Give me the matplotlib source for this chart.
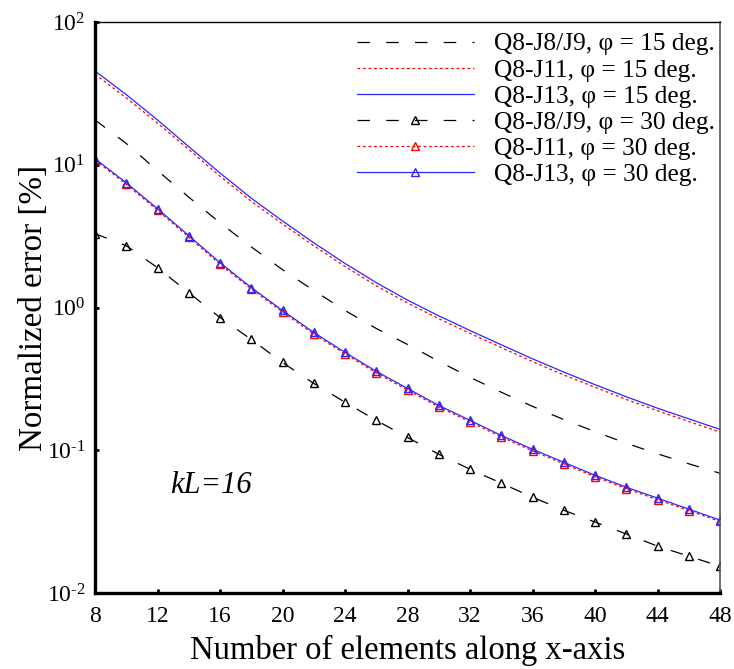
import matplotlib
matplotlib.use('Agg')
import numpy as np
import matplotlib.pyplot as plt
from matplotlib.ticker import LogLocator, NullLocator, FixedLocator, FuncFormatter

plt.rcParams['font.family'] = ['Liberation Serif', 'DejaVu Serif']
plt.rcParams['mathtext.fontset'] = 'custom'
plt.rcParams['mathtext.rm'] = 'Liberation Serif'
plt.rcParams['axes.unicode_minus'] = False

# number of elements along x-axis
n_elem = [8, 10, 12, 14, 16, 18, 20, 22, 24, 26, 28, 30, 32, 34, 36, 38, 40, 42, 44, 46, 48]

# normalized error [%], phi = 15 deg.
j89_15 = [20.6, 14.1, 9.10, 5.93, 3.92, 2.66, 1.84, 1.315, 0.953, 0.713, 0.551,
          0.420, 0.324, 0.255, 0.203, 0.164, 0.135, 0.112, 0.0944, 0.0804, 0.0690]
j11_15 = [43.0, 29.4, 19.6, 12.8, 8.32, 5.55, 3.85, 2.71, 1.94, 1.42, 1.075,
          0.835, 0.659, 0.524, 0.418, 0.337, 0.276, 0.227, 0.189, 0.159, 0.134]
j13_15 = [45.4, 31.0, 20.6, 13.4, 8.75, 5.83, 4.04, 2.84, 2.035, 1.494, 1.126,
          0.874, 0.690, 0.548, 0.437, 0.353, 0.288, 0.237, 0.197, 0.166, 0.140]

# normalized error [%], phi = 30 deg.
j89_30 = [3.29, 2.71, 1.90, 1.27, 0.851, 0.597, 0.412, 0.294, 0.217, 0.162, 0.123,
          0.0937, 0.0736, 0.0588, 0.0469, 0.0380, 0.0314, 0.0259, 0.0213, 0.0181, 0.0154]
j11_30 = [10.8, 7.30, 4.80, 3.11, 2.01, 1.35, 0.930, 0.652, 0.473, 0.348, 0.264,
          0.201, 0.158, 0.124, 0.0990, 0.0804, 0.0652, 0.0538, 0.0451, 0.0378, 0.0317]
j13_30 = [11.0, 7.48, 4.92, 3.19, 2.06, 1.38, 0.953, 0.669, 0.485, 0.357, 0.271,
          0.206, 0.162, 0.127, 0.1016, 0.0824, 0.0668, 0.0551, 0.0462, 0.0387, 0.0324]

x_ticks = [8, 12, 16, 20, 24, 28, 32, 36, 40, 44, 48]


def log_label(v, pos):
    e = int(round(np.log10(v)))
    if e < 0:
        return r'$\mathdefault{10^{\text{-}%d}}$' % (-e)
    return r'$\mathdefault{10^{%d}}$' % e


fig = plt.figure(figsize=(7.34, 6.69), dpi=100)
ax = fig.add_axes([95 / 734, 1 - 593 / 669, 625 / 734, 571 / 669])

dash_long = (10, 13)
dash_red = (2.2, 2.2)
blue = '#2828ff'
mk = dict(marker='^', markersize=6, markerfacecolor='none', markeredgewidth=1)

ax.plot(n_elem, j89_15, color='black', lw=0.9, dashes=dash_long, label='Q8-J8/J9, φ = 15 deg.')
ax.plot(n_elem, j11_15, color='red', lw=0.9, dashes=dash_red, label='Q8-J11, φ = 15 deg.')
ax.plot(n_elem, j13_15, color=blue, lw=0.9, label='Q8-J13, φ = 15 deg.')
ax.plot(n_elem, j89_30, color='black', lw=0.9, dashes=dash_long, markeredgecolor='black',
        label='Q8-J8/J9, φ = 30 deg.', **mk)
ax.plot(n_elem, j11_30, color='red', lw=0.9, dashes=dash_red, markeredgecolor='red',
        label='Q8-J11, φ = 30 deg.', **mk)
ax.plot(n_elem, j13_30, color=blue, lw=0.9, markeredgecolor=blue,
        label='Q8-J13, φ = 30 deg.', **mk)

ax.set_yscale('log')
ax.set_xlim(8, 48)
ax.set_ylim(1e-2, 1e2)
ax.xaxis.set_major_locator(FixedLocator(x_ticks))
ax.yaxis.set_major_locator(LogLocator(base=10, numticks=10))
ax.yaxis.set_minor_locator(NullLocator())
ax.yaxis.set_major_formatter(FuncFormatter(log_label))
ax.tick_params(axis='both', which='major', direction='in', length=3, width=2, labelsize=17)
ax.tick_params(axis='x', pad=9)
ax.tick_params(axis='y', pad=7)

ax.spines['left'].set_linewidth(2.4)
ax.spines['bottom'].set_linewidth(2.4)
ax.spines['top'].set_linewidth(1.0)
ax.spines['right'].set_linewidth(1.2)
ax.spines['right'].set_color('#555555')

ax.set_xlabel('Number of elements along x-axis', fontsize=23.5, labelpad=6)
ax.set_ylabel('Normalized error [%]', fontsize=23.8, labelpad=-2)

ax.text(12.8, 0.057, 'kL=16', fontsize=22, style='italic', va='center', ha='left')

ax.legend(loc='upper right', bbox_to_anchor=(1.009, 1.0), frameon=False, fontsize=18.3,
          handlelength=4.6, handletextpad=0.8, labelspacing=0.13, borderaxespad=0.0,
          borderpad=0.42, numpoints=1)

fig.savefig('out.png', dpi=100)
